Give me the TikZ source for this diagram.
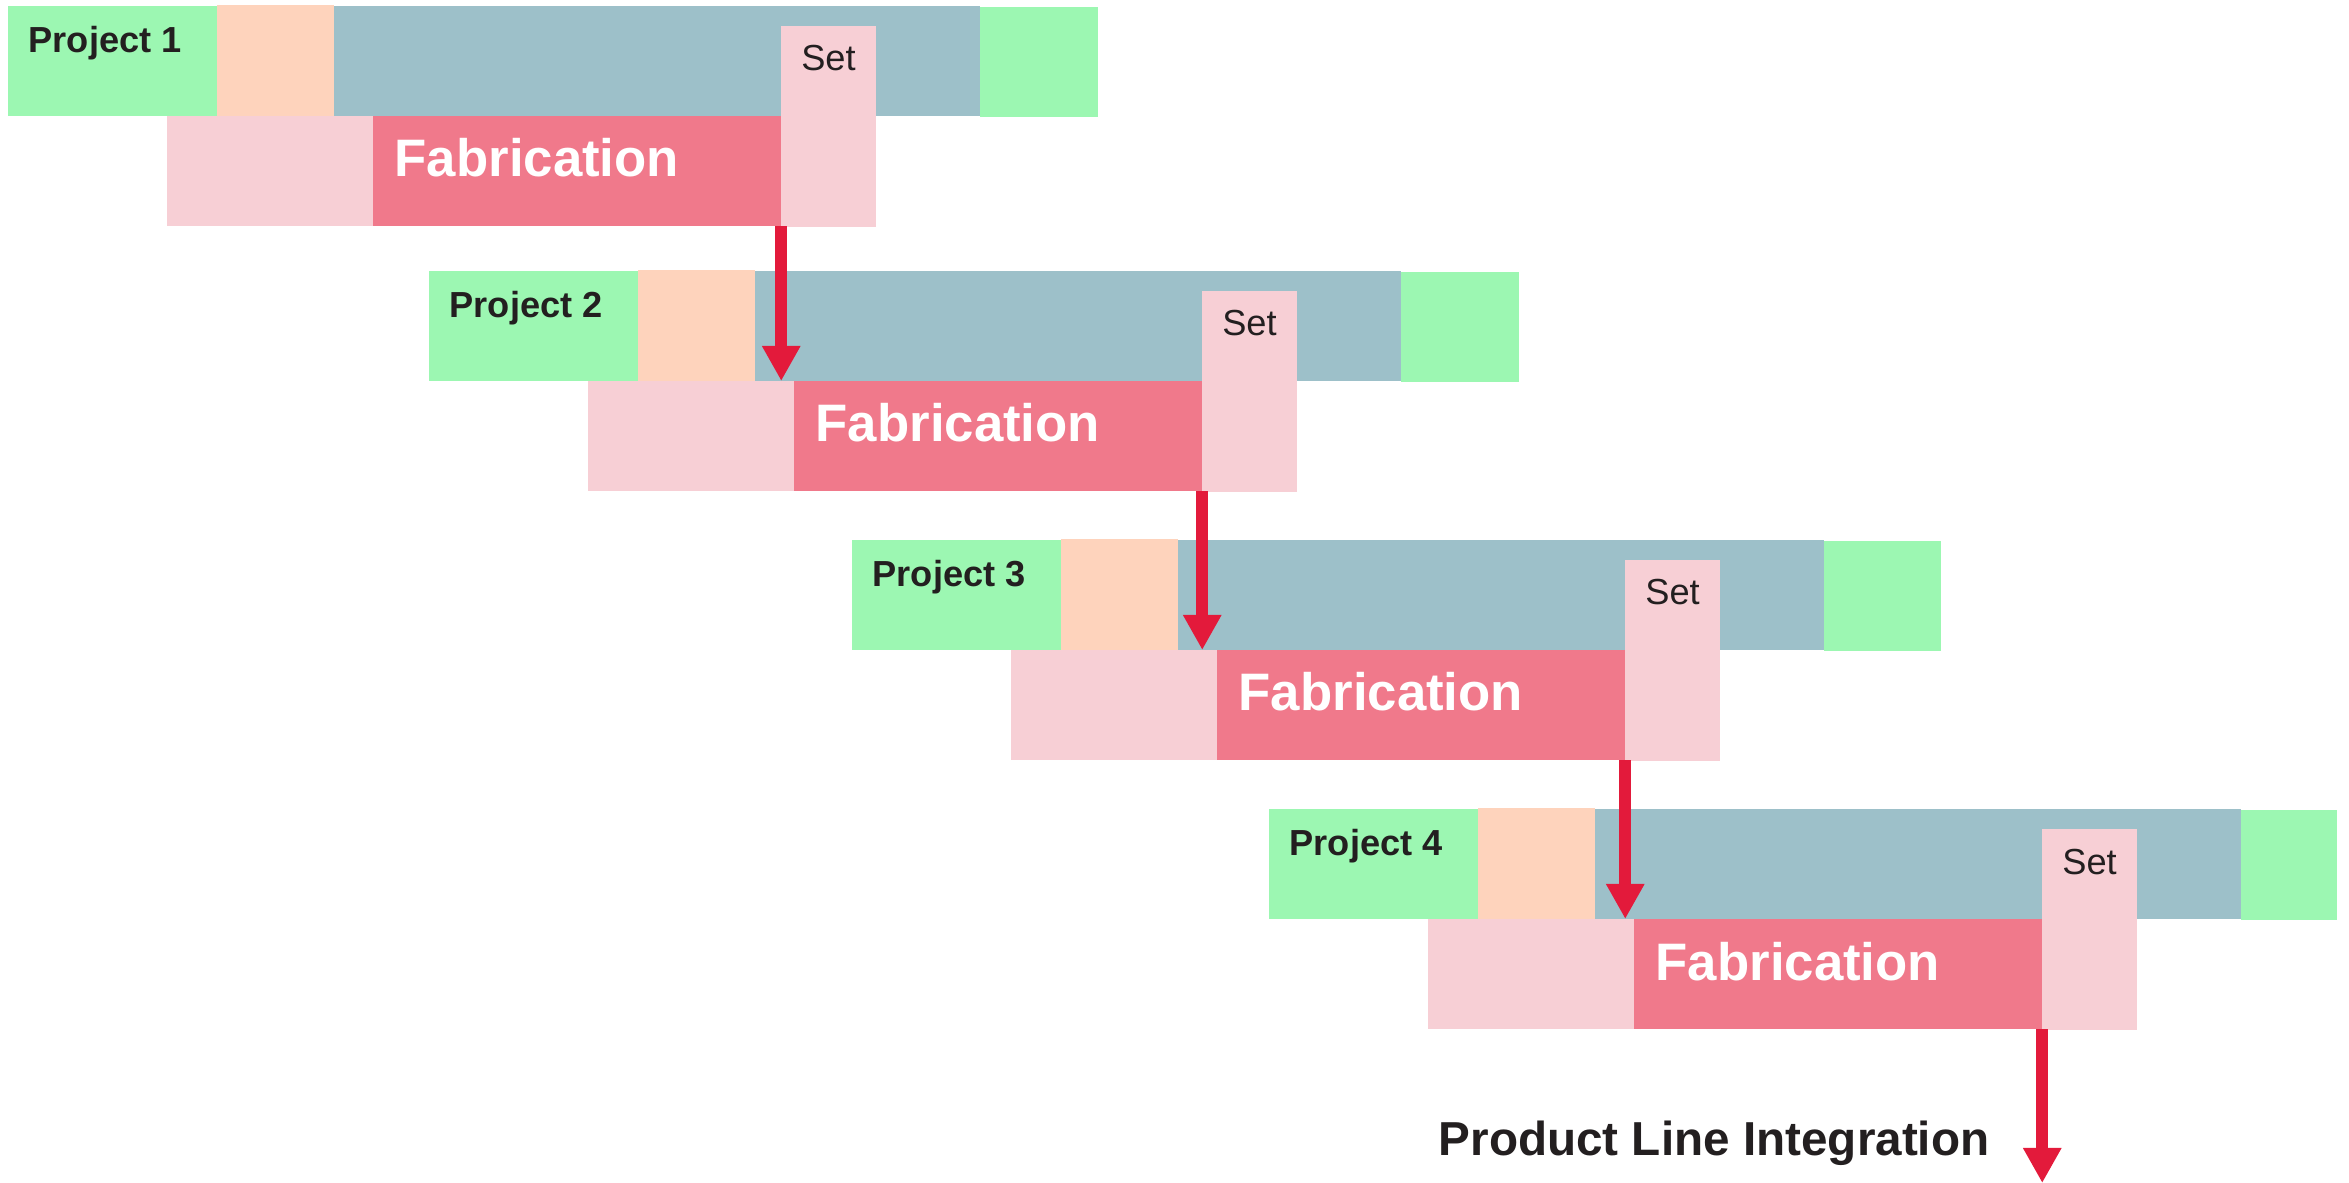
\documentclass[tikz,border=0pt]{standalone}
\usepackage{fontspec}
\setmainfont{Liberation Sans}
\usepackage{tikz}
\usetikzlibrary{arrows.meta}
\definecolor{startgreen}{RGB}{156,247,178}
\definecolor{prepeach}{RGB}{254,211,188}
\definecolor{workblue}{RGB}{157,192,201}
\definecolor{litepink}{RGB}{247,207,213}
\definecolor{fabpink}{RGB}{240,121,139}
\definecolor{flowred}{RGB}{227,26,59}
\definecolor{inkdark}{RGB}{35,31,32}
\tikzset{
	bar/.style={rectangle, inner sep=0pt, outer sep=0pt, anchor=north west},
	flow/.style={draw=flowred, line width=0.12cm, -{Triangle[length=0.35cm, width=0.36cm]}},
	projtext/.style={anchor=base west, inner sep=0pt, text=inkdark, font=\fontsize{10.3}{12}\selectfont\bfseries},
	fabtext/.style={anchor=base west, inner sep=0pt, text=white, font=\fontsize{15}{18}\selectfont\bfseries},
	settext/.style={anchor=base, inner sep=0pt, text=inkdark, font=\fontsize{10.3}{12}\selectfont}
}
\begin{document}
\begin{tikzpicture}[x=0.01cm, y=-0.01cm]
	\useasboundingbox (0,0) rectangle (2349,1183);
	\foreach \n/\dx/\dy/\ew in {1/0/0/1.18, 2/421/265/1.18, 3/844/534/1.17, 4/1261/803/0.96} {
		\begin{scope}[shift={(\dx,\dy)}]
			\node[bar, fill=startgreen, minimum width=2.09cm, minimum height=1.10cm] (green\n) at (8,6) {};
			\node[bar, fill=prepeach, minimum width=1.17cm, minimum height=1.11cm] (peach\n) at (217,5) {};
			\node[bar, fill=workblue, minimum width=6.46cm, minimum height=1.10cm] (blue\n) at (334,6) {};
			\node[bar, fill=startgreen, minimum width=\ew cm, minimum height=1.10cm] (end\n) at (980,7) {};
			\node[bar, fill=litepink, minimum width=2.06cm, minimum height=1.10cm] (lite\n) at (167,116) {};
			\node[bar, fill=fabpink, minimum width=4.08cm, minimum height=1.10cm] (fab\n) at (373,116) {};
			\node[bar, fill=litepink, minimum width=0.95cm, minimum height=2.01cm] (set\n) at (781,26) {};
			\node[projtext] (ptext\n) at (28,53) {Project \n};
			\node[fabtext] (ftext\n) at (394,177) {Fabrication};
			\node[settext] (stext\n) at (828.5,71) {Set};
		\end{scope}
	}
	\foreach \a/\b in {1/2, 2/3, 3/4}
		\draw[flow] (fab\a.south east) -- (fab\a.south east |- lite\b.north);
	\coordinate (pliend) at (2042,1183);
	\draw[flow] (fab4.south east) -- (fab4.south east |- pliend);
	\node[anchor=base west, inner sep=0pt, text=inkdark, font=\fontsize{13.55}{16}\selectfont\bfseries] (plitext) at (1438,1155) {Product Line Integration};
\end{tikzpicture}
\end{document}
